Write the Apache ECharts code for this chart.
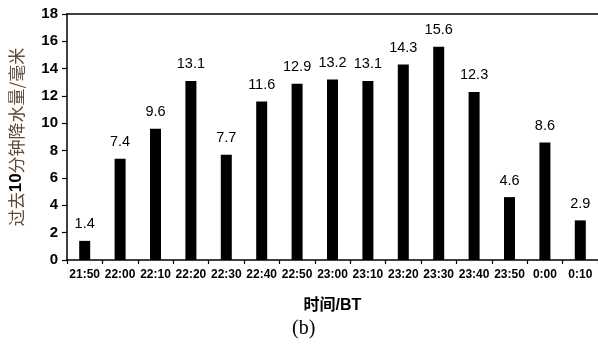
<!DOCTYPE html>
<html><head><meta charset="utf-8">
<script src="https://cdn.jsdelivr.net/npm/echarts@6/dist/echarts.min.js"></script>
<style>html,body{margin:0;padding:0;background:#fff}#c{width:598px;height:346px}</style>
</head><body><div id="c"></div>
<script>
const categories = ['21:50','22:00','22:10','22:20','22:30','22:40','22:50','23:00','23:10','23:20','23:30','23:40','23:50','0:00','0:10'];
const values = [1.4,7.4,9.6,13.1,7.7,11.6,12.9,13.2,13.1,14.3,15.6,12.3,4.6,8.6,2.9];
const yTicks = [0,2,4,6,8,10,12,14,16,18];

const chart = echarts.init(document.getElementById('c'));
chart.setOption({
  animation: false,
  grid: {left: 65, top: 14, right: -5, bottom: 86},
  graphic: [{type:'text', left: 292, top: 319, style:{text:'(b)', font:'20px "Liberation Serif", serif', fill:'#000'}}],
  xAxis: [{
    type: 'category', data: categories, position: 'bottom',
    name: '时间/BT', nameLocation: 'middle', nameGap: 38,
    nameTextStyle: {fontFamily: 'Liberation Sans, Noto Sans CJK SC', fontSize: 16, fontWeight: 'bold', color: '#000'},
    axisLine: {lineStyle: {color: '#000', width: 1.5}},
    axisTick: {show: true, inside: false, length: 4, alignWithLabel: false, lineStyle:{color:'#000', width:1.2}},
    axisLabel: {fontFamily: 'Liberation Sans', fontSize: 12, fontWeight: 'bold', color: '#000', margin: 9, interval: 0}
  },{
    type: 'category', data: categories, position: 'top',
    axisLine: {lineStyle: {color: '#000', width: 1.5}},
    axisTick: {show: false}, axisLabel: {show: false}
  }],
  yAxis: {
    type: 'value', min: 0, max: 18, interval: 2,
    name: '{a|过去}{b|10}{a|分钟降水量/毫米}', nameLocation: 'middle', nameGap: 42, nameRotate: 90,
    nameTextStyle: {rich: {
      a: {fontFamily: 'Noto Sans CJK SC', fontSize: 17, color: '#5e4a3a'},
      b: {fontFamily: 'Liberation Sans', fontSize: 17, fontWeight: 'bold', color: '#000'}
    }},
    axisLine: {show: true, lineStyle: {color: '#000', width: 1.5}},
    axisTick: {show: true, inside: false, length: 5, lineStyle:{color:'#000', width:1.2}},
    splitLine: {show: false},
    axisLabel: {fontFamily: 'Liberation Sans', fontSize: 15, fontWeight: 'bold', color: '#000', margin: 9,
      formatter: v => yTicks.includes(v) ? String(v) : ''}
  },
  series: [{
    type: 'bar', data: values, barWidth: 11, itemStyle: {color: '#000'},
    label: {show: true, position: 'top', distance: 9, fontFamily: 'Liberation Sans', fontSize: 14.5, color: '#000',
      formatter: p => p.value.toFixed(1)}
  }]
});
</script></body></html>
